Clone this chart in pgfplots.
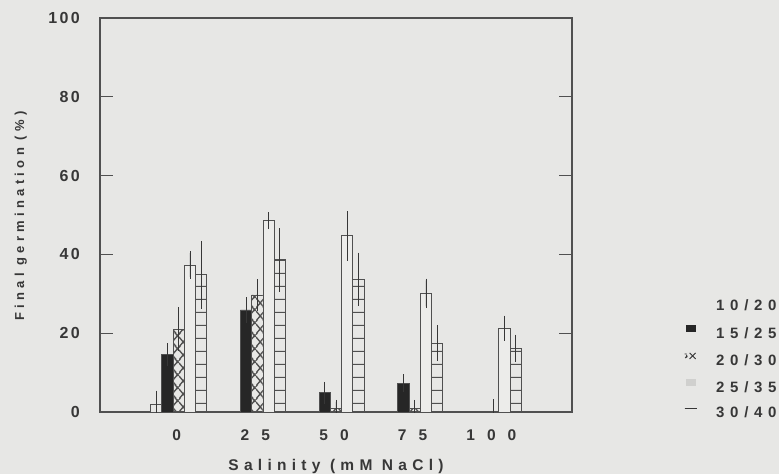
\documentclass[border=0pt]{standalone}
\usepackage{fontspec}
\setmainfont{Liberation Sans}
\newfontfamily\ytf[LetterSpace=15]{Liberation Sans}
\newfontfamily\xtf[LetterSpace=78]{Liberation Sans}
\newfontfamily\labf[LetterSpace=34]{Liberation Sans}
\newfontfamily\ylabf[LetterSpace=33]{Liberation Sans}
\newfontfamily\legf[LetterSpace=38]{Liberation Sans}
\usepackage{pgfplots}
\pgfplotsset{compat=1.18}
\usetikzlibrary{patterns.meta}
\definecolor{bg}{RGB}{231,231,229}
\definecolor{ink}{RGB}{55,55,55}
\definecolor{edge}{RGB}{80,80,80}
\definecolor{barblack}{RGB}{38,38,38}
\definecolor{litefill}{RGB}{236,236,234}
\definecolor{legray}{RGB}{208,208,206}

\tikzdeclarepattern{
  name=ladder, type=uncolored,
  bottom left={(0pt,0pt)}, top right={(11.238pt,12.7pt)},
  tile size={(11.238pt,12.7pt)},
  code={\draw[line width=1.1pt] (-1pt,7.8pt) -- (12.3pt,7.8pt);}
}
\tikzdeclarepattern{
  name=xcross, type=uncolored,
  bottom left={(0pt,0pt)}, top right={(11.238pt,12.7pt)},
  tile size={(11.238pt,12.7pt)},
  code={\draw[line width=1.4pt] (0pt,-0.914pt) -- (11.238pt,11.786pt) (0pt,11.786pt) -- (11.238pt,24.486pt) (0pt,9.214pt) -- (11.238pt,-3.486pt) (0pt,21.914pt) -- (11.238pt,9.214pt);}
}
\pgfplotsset{
  eb/.style={error bars/.cd, y dir=both, y explicit,
    error bar style={ink, line width=0.8pt},
    error mark options={ink, mark size=1.8pt, line width=0.8pt}},
  barbase/.style={draw=edge, line width=0.9pt}
}
\begin{document}
\begin{tikzpicture}
\useasboundingbox (0,0) rectangle (779pt,474pt);
\fill[bg] (0,0) rectangle (779pt,474pt);
\begin{axis}[
  at={(100pt,62pt)}, anchor=south west,
  scale only axis, width=472pt, height=394pt,
  xmin=-1, xmax=5, ymin=0, ymax=100,
  ybar, bar width=0.142857,
  axis line style={edge, line width=1.3pt},
  xtick={0,1,2,3,4}, xticklabels={0,25,50,75,100},
  ytick={0,20,40,60,80,100},
  tick align=inside,
  major tick length=13pt,
  xtick style={draw=none},
  ytick style={edge, line width=1.1pt},
  /pgf/number format/assume math mode=true,
  yticklabel style={font=\ytf\bfseries\fontsize{16}{16}\selectfont, text=ink, anchor=east, inner sep=0pt, xshift=-20pt},
  xticklabel style={font=\xtf\bfseries\fontsize{15.5}{15.5}\selectfont, text=ink, anchor=center, inner sep=0pt, yshift=-23pt, xshift=-2pt},
  xlabel={Salinity (mM NaCl)},
  ylabel={Final germination (\%)},
  x label style={at={(rel axis cs:0.5,-0.1497)}, anchor=base, font=\labf\bfseries\fontsize{15.5}{15.5}\selectfont, text=ink, inner sep=0pt},
  y label style={at={(rel axis cs:-0.161,0.4975)}, anchor=base, font=\ylabf\bfseries\fontsize{13}{13}\selectfont, text=ink, inner sep=0pt},
  legend style={at={(rel axis cs:1.2373,0.2881)}, anchor=north west, draw=none, fill=none, inner sep=0pt, outer sep=0pt, row sep=14pt, font=\legf\bfseries\fontsize{15}{15}\selectfont, nodes={inner sep=0pt, text=ink, text height=11pt, text depth=0pt}, /tikz/every odd column/.append style={column sep=19pt}},
  legend cell align=left,
]
\addplot[barbase, fill=bg, bar shift=-0.285714,
  legend image code/.code={\path[draw=none, fill=none] (0pt,0pt) rectangle (11pt,7pt);}, eb]
  coordinates {(0,2.0) +- (0,3.0)};
\addplot[barbase, fill=barblack, bar shift=-0.142857,
  legend image code/.code={\fill[barblack, draw=none] (1pt,1pt) rectangle (11pt,8pt);}, eb]
  coordinates {(0,14.6) +- (0,2.4) (1,25.9) +- (0,2.8) (2,4.9) +- (0,2.3) (3,7.3) +- (0,1.8)};
\addplot[barbase, pattern=xcross, pattern color=edge, bar shift=0,
  legend image code/.code={\draw[ink, line width=0.9pt] (5pt,1pt) -- (11pt,7pt) (5pt,7pt) -- (11pt,1pt); \draw[ink, line width=0.8pt] (0pt,6pt) -- (2pt,6pt) (0.5pt,2pt) .. controls (3pt,2pt) and (3pt,4pt) .. (2pt,5pt);}, eb]
  coordinates {(0,21.0) +- (0,5.1) (1,29.7) +- (0,3.5) (2,1.0) +- (0,1.6) (3,1.0) +- (0,1.6) (4,0) +- (0,2.8)};
\addplot[barbase, fill=litefill, bar shift=0.142857,
  legend image code/.code={\fill[legray, draw=none] (1pt,1pt) rectangle (11pt,8pt);}, eb]
  coordinates {(0,37.3) +- (0,3.0) (1,48.6) +- (0,1.7) (2,44.7) +- (0,5.8) (3,30.1) +- (0,3.3) (4,21.3) +- (0,2.7)};
\addplot[barbase, pattern=ladder, pattern color=edge, bar shift=0.285714,
  legend image code/.code={\draw[ink, line width=1.2pt] (0pt,4pt) -- (12pt,4pt);}, eb]
  coordinates {(0,34.8) +- (0,8.2) (1,38.6) +- (0,7.6) (2,33.7) +- (0,6.3) (3,17.5) +- (0,4.0) (4,16.2) +- (0,3.0)};
\legend{10/20,15/25,20/30,25/35,30/40}
\end{axis}
\end{tikzpicture}
\end{document}
